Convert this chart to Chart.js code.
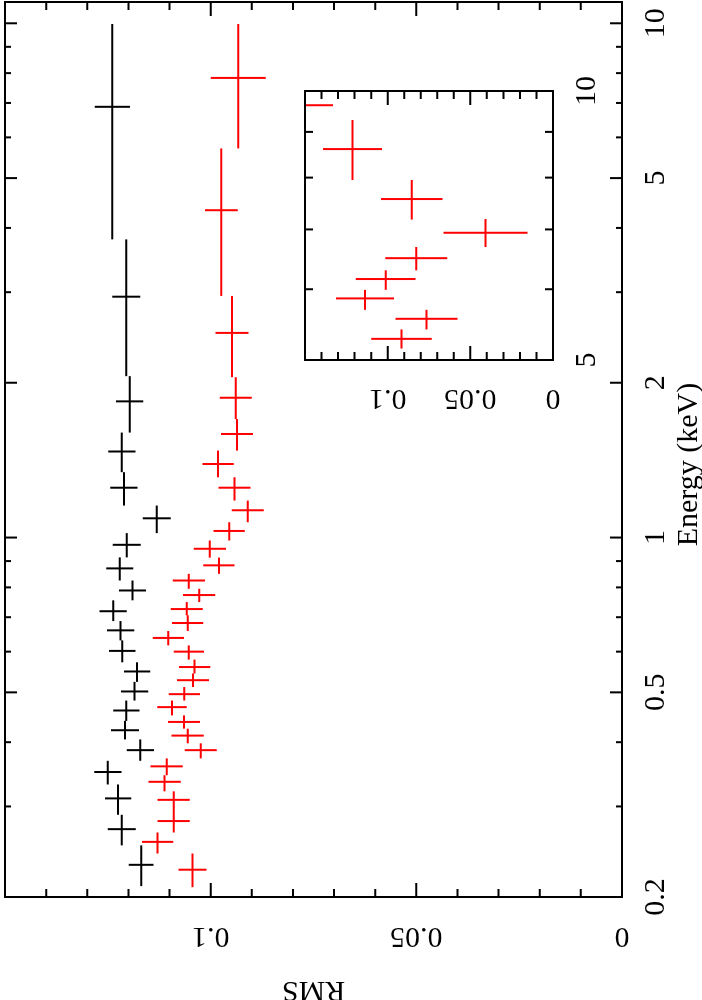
<!DOCTYPE html>
<html>
<head>
<meta charset="utf-8">
<title>RMS spectrum</title>
<script src="https://cdn.jsdelivr.net/npm/chart.js@4.4.0/dist/chart.umd.min.js"></script>
<style>
  html, body { margin: 0; padding: 0; background: #fff; overflow: hidden; }
  /* the plot is drawn landscape and then turned a quarter turn anticlockwise */
  #page { position: absolute; left: 0; top: 0; width: 1000px; height: 702px;
          transform-origin: 0 0; transform: translateY(1000px) rotate(-90deg); }
  #mainChart { position: absolute; left: 0; top: 0; }
  #insetChart { position: absolute; left: 560px; top: 295px; }
</style>
</head>
<body>
<div id="page">
  <canvas id="mainChart" width="1000" height="702"></canvas>
  <canvas id="insetChart" width="390" height="310"></canvas>
</div>
<script>
// black series
const blackEnergy   = [6.88, 2.94, 1.84, 1.47, 1.25, 1.09, 0.968, 0.871, 0.789, 0.719, 0.660, 0.602, 0.549, 0.502, 0.461, 0.422, 0.386, 0.350, 0.311, 0.271, 0.231];
const blackEnergyLo = [3.80, 2.06, 1.60, 1.34, 1.154, 1.02, 0.915, 0.825, 0.755, 0.688, 0.631, 0.572, 0.524, 0.482, 0.440, 0.405, 0.368, 0.331, 0.289, 0.252, 0.210];
const blackEnergyHi = [9.97, 3.80, 2.06, 1.60, 1.34, 1.154, 1.02, 0.915, 0.825, 0.755, 0.688, 0.631, 0.572, 0.524, 0.482, 0.440, 0.405, 0.368, 0.331, 0.289, 0.252];
const blackRms      = [0.1239, 0.1205, 0.1197, 0.1216, 0.1211, 0.1131, 0.1204, 0.1221, 0.1190, 0.1237, 0.1219, 0.1215, 0.1179, 0.1185, 0.1205, 0.1208, 0.1171, 0.1250, 0.1225, 0.1216, 0.1169];
const blackRmsErr   = [0.0043, 0.0034, 0.0033, 0.0033, 0.0033, 0.0034, 0.0034, 0.0033, 0.0033, 0.0033, 0.0033, 0.0032, 0.0032, 0.0033, 0.0032, 0.0034, 0.0033, 0.0033, 0.0032, 0.0034, 0.0030];

// red series
const redEnergy   = [7.83, 4.33, 2.50, 1.87, 1.59, 1.39, 1.25, 1.13, 1.03, 0.951, 0.883, 0.825, 0.773, 0.726, 0.682, 0.638, 0.600, 0.560, 0.528, 0.496, 0.468, 0.438, 0.412, 0.386, 0.359, 0.335, 0.309, 0.281, 0.256, 0.226];
const redEnergyLo = [5.71, 2.95, 2.05, 1.70, 1.476, 1.31, 1.18, 1.071, 0.987, 0.914, 0.850, 0.795, 0.749, 0.706, 0.658, 0.617, 0.579, 0.544, 0.512, 0.482, 0.451, 0.425, 0.398, 0.372, 0.345, 0.321, 0.294, 0.267, 0.243, 0.209];
const redEnergyHi = [9.97, 5.71, 2.95, 2.05, 1.70, 1.476, 1.31, 1.18, 1.071, 0.987, 0.914, 0.850, 0.795, 0.749, 0.706, 0.658, 0.617, 0.579, 0.544, 0.512, 0.482, 0.451, 0.425, 0.398, 0.372, 0.345, 0.321, 0.294, 0.267, 0.243];
const redRms      = [0.0933, 0.0974, 0.0948, 0.0939, 0.0936, 0.0982, 0.0942, 0.0910, 0.0955, 0.1002, 0.0980, 0.1053, 0.1028, 0.1058, 0.1056, 0.1103, 0.1053, 0.1039, 0.1043, 0.1064, 0.1094, 0.1065, 0.1056, 0.1024, 0.1107, 0.1112, 0.1090, 0.1090, 0.1129, 0.1044];
const redRmsErr   = [0.0067, 0.0040, 0.0040, 0.0039, 0.0039, 0.0038, 0.0039, 0.0039, 0.0038, 0.0039, 0.0038, 0.0039, 0.0039, 0.0039, 0.0038, 0.0038, 0.0037, 0.0038, 0.0039, 0.0038, 0.0036, 0.0039, 0.0039, 0.0039, 0.0039, 0.0039, 0.0039, 0.0039, 0.0038, 0.0034];

// inset (5-10 keV)
const insetEnergy   = [9.64, 8.61, 7.57, 6.94, 6.50, 6.16, 5.86, 5.56, 5.28];
const insetEnergyLo = [9.28, 7.95, 7.18, 6.69, 6.30, 5.99, 5.69, 5.41, 5.15];
const insetEnergyHi = [10.0, 9.28, 7.95, 7.19, 6.69, 6.30, 5.99, 5.69, 5.41];
const insetRms      = [0.160, 0.1213, 0.0855, 0.0408, 0.0827, 0.1012, 0.1137, 0.0765, 0.0917];
const insetRmsErr   = [0.027, 0.0178, 0.0186, 0.0254, 0.0187, 0.0181, 0.0176, 0.0188, 0.0183];

// ticks
const energyTicks      = [0.2, 0.3, 0.4, 0.5, 0.6, 0.7, 0.8, 0.9, 1, 2, 3, 4, 5, 6, 7, 8, 9, 10];
const energyMajor      = [0.2, 0.5, 1, 2, 5, 10];
const energyTickLabels = ['0.2', '0.5', '1', '2', '5', '10'];
const rmsTicks      = [0, 0.01, 0.02, 0.03, 0.04, 0.05, 0.06, 0.07, 0.08, 0.09, 0.1, 0.11, 0.12, 0.13, 0.14, 0.15];
const rmsMajor      = [0, 0.05, 0.1, 0.15];
const rmsTickLabels = ['0', '0.05', '0.1', ''];
const insetEnergyTicks      = [5, 6, 7, 8, 9, 10];
const insetEnergyMajor      = [5, 10];
const insetEnergyTickLabels = ['5', '10'];

const serif = "'Liberation Serif', 'Times New Roman', serif";
Chart.defaults.font.family = serif;
Chart.defaults.color = '#000';

function points(e, lo, hi, r, err) {
  return e.map((v, i) => ({ x: v, y: r[i], xLo: lo[i], xHi: hi[i], err: err[i] }));
}

function labelFrom(values, labels) {
  return v => {
    const i = values.findIndex(m => Math.abs(m - v) < 1e-9);
    return i >= 0 ? labels[i] : '';
  };
}

// crosses: energy bin and rms error
const errorBars = {
  id: 'errorBars',
  afterDatasetsDraw(chart) {
    const { ctx, chartArea: a, scales: { x, y } } = chart;
    ctx.save();
    ctx.beginPath();
    ctx.rect(a.left, a.top, a.right - a.left, a.bottom - a.top);
    ctx.clip();
    ctx.lineWidth = 2;
    chart.data.datasets.forEach(ds => {
      ctx.strokeStyle = ds.borderColor;
      ctx.beginPath();
      ds.data.forEach(p => {
        const px = x.getPixelForValue(p.x);
        const py = y.getPixelForValue(p.y);
        ctx.moveTo(x.getPixelForValue(p.xLo), py);
        ctx.lineTo(x.getPixelForValue(p.xHi), py);
        ctx.moveTo(px, y.getPixelForValue(p.y - p.err));
        ctx.lineTo(px, y.getPixelForValue(p.y + p.err));
      });
      ctx.stroke();
    });
    ctx.restore();
  }
};

// box with inward ticks on all four sides
const frameTicks = {
  id: 'frameTicks',
  afterDraw(chart, args, opts) {
    const { ctx, chartArea: a, scales: { x, y } } = chart;
    const isMajor = (list, v) => list.some(m => Math.abs(m - v) < 1e-9);
    ctx.save();
    ctx.strokeStyle = '#000';
    ctx.lineWidth = 2;
    ctx.strokeRect(a.left, a.top, a.right - a.left, a.bottom - a.top);
    ctx.beginPath();
    x.ticks.forEach(t => {
      const px = x.getPixelForValue(t.value);
      const len = isMajor(opts.xMajor, t.value) ? opts.xLen[0] : opts.xLen[1];
      ctx.moveTo(px, a.bottom); ctx.lineTo(px, a.bottom - len);
      ctx.moveTo(px, a.top); ctx.lineTo(px, a.top + len);
    });
    y.ticks.forEach(t => {
      const py = y.getPixelForValue(t.value);
      const len = isMajor(opts.yMajor, t.value) ? opts.yLen[0] : opts.yLen[1];
      ctx.moveTo(a.left, py); ctx.lineTo(a.left + len, py);
      ctx.moveTo(a.right, py); ctx.lineTo(a.right - len, py);
    });
    ctx.stroke();
    ctx.restore();
  }
};

const tickFont = { family: serif, size: 30 };
const titleFont = { family: serif, size: 30 };

new Chart(document.getElementById('mainChart'), {
  type: 'scatter',
  data: {
    datasets: [
      { label: 'black', data: points(blackEnergy, blackEnergyLo, blackEnergyHi, blackRms, blackRmsErr), borderColor: '#000000', pointRadius: 0 },
      { label: 'red', data: points(redEnergy, redEnergyLo, redEnergyHi, redRms, redRmsErr), borderColor: '#ff0000', pointRadius: 0 }
    ]
  },
  options: {
    responsive: false,
    animation: false,
    events: [],
    layout: { padding: { top: 5, right: 2, left: 0, bottom: 0 } },
    plugins: {
      legend: { display: false },
      tooltip: { enabled: false },
      frameTicks: { xMajor: energyMajor, yMajor: rmsMajor, xLen: [12, 6], yLen: [14, 8] }
    },
    scales: {
      x: {
        type: 'logarithmic',
        min: 0.2,
        max: 11,
        grid: { display: false },
        border: { display: false },
        afterBuildTicks: s => { s.ticks = energyTicks.map(v => ({ value: v })); },
        afterFit: s => { s.height = 80; s.paddingLeft = 0; s.paddingRight = 0; },
        ticks: {
          autoSkip: false, maxRotation: 0, minRotation: 0, padding: 8,
          font: tickFont, color: '#000',
          callback: labelFrom(energyMajor, energyTickLabels)
        },
        // trailing spaces nudge the centred title towards low energies, as in the original
        title: { display: true, text: 'Energy (keV)    ', font: titleFont, color: '#000', padding: { top: 0, bottom: -5 } }
      },
      y: {
        type: 'linear',
        min: 0,
        max: 0.15,
        grid: { display: false },
        border: { display: false },
        afterBuildTicks: s => { s.ticks = rmsTicks.map(v => ({ value: v })); },
        afterFit: s => { s.width = 103; s.paddingTop = 0; s.paddingBottom = 0; },
        ticks: {
          autoSkip: false, minRotation: 90, maxRotation: 90, crossAlign: 'center', padding: 5,
          font: tickFont, color: '#000',
          callback: labelFrom(rmsMajor, rmsTickLabels)
        },
        title: { display: true, text: 'RMS', font: titleFont, color: '#000', padding: { top: -8, bottom: 0 } }
      }
    }
  },
  plugins: [errorBars, frameTicks]
});

new Chart(document.getElementById('insetChart'), {
  type: 'scatter',
  data: {
    datasets: [
      { label: 'inset', data: points(insetEnergy, insetEnergyLo, insetEnergyHi, insetRms, insetRmsErr), borderColor: '#ff0000', pointRadius: 0 }
    ]
  },
  options: {
    responsive: false,
    animation: false,
    events: [],
    layout: { padding: { top: 10, right: 41, left: 0, bottom: 0 } },
    plugins: {
      legend: { display: false },
      tooltip: { enabled: false },
      frameTicks: { xMajor: insetEnergyMajor, yMajor: rmsMajor, xLen: [8, 8], yLen: [14, 8] }
    },
    scales: {
      x: {
        type: 'logarithmic',
        min: 5,
        max: 10,
        grid: { display: false },
        border: { display: false },
        afterBuildTicks: s => { s.ticks = insetEnergyTicks.map(v => ({ value: v })); },
        afterFit: s => { s.height = 52; s.paddingLeft = 0; s.paddingRight = 0; },
        ticks: {
          autoSkip: false, maxRotation: 0, minRotation: 0, padding: 8,
          font: tickFont, color: '#000',
          callback: labelFrom(insetEnergyMajor, insetEnergyTickLabels)
        }
      },
      y: {
        type: 'linear',
        min: 0,
        max: 0.15,
        grid: { display: false },
        border: { display: false },
        afterBuildTicks: s => { s.ticks = rmsTicks.map(v => ({ value: v })); },
        afterFit: s => { s.width = 80; s.paddingTop = 0; s.paddingBottom = 0; },
        ticks: {
          autoSkip: false, minRotation: 90, maxRotation: 90, crossAlign: 'center', padding: 4,
          font: tickFont, color: '#000',
          callback: labelFrom(rmsMajor, rmsTickLabels)
        }
      }
    }
  },
  plugins: [errorBars, frameTicks]
});
</script>
</body>
</html>
